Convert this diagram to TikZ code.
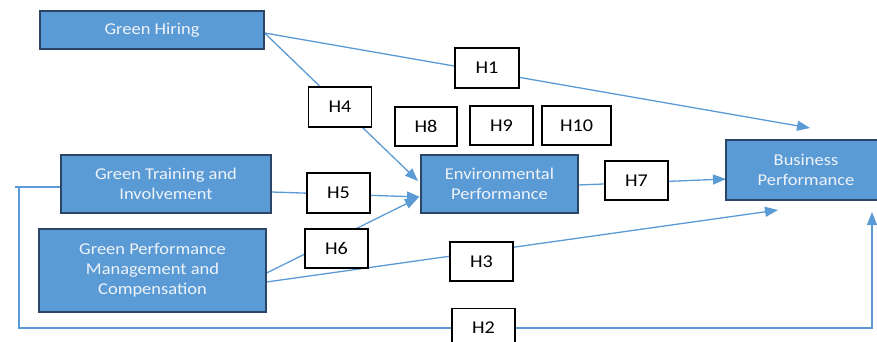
\documentclass[tikz,border=0pt]{standalone}
\usepackage{fontspec}
\setmainfont{Carlito}
\newfontfamily\wideCarlito[FakeStretch=1.12]{Carlito}
\usetikzlibrary{arrows.meta}
\pgfdeclarelayer{bg}
\pgfsetlayers{bg,main}
\definecolor{boxblue}{HTML}{5B9BD5}
\definecolor{boxedge}{HTML}{2B4566}
\definecolor{linkblue}{HTML}{5B9BD5}
\definecolor{boxtext}{HTML}{EEF3FA}
\tikzset{
  varbox/.style={draw=boxedge, line width=1.2pt, fill=boxblue, text=boxtext,
    align=center, inner sep=0pt, font=\wideCarlito\fontsize{16.5}{20}\selectfont},
  hypbox/.style={draw=black, line width=1.4pt, fill=white, inner sep=0pt,
    font=\wideCarlito\fontsize{18}{20}\selectfont},
  link/.style={draw=linkblue, line width=1.3pt},
  arrowlink/.style={link, -{Triangle[length=13pt,width=10pt]}}
}
\begin{document}
\begin{tikzpicture}[x=1pt,y=-1pt]
\useasboundingbox (0,0) rectangle (877,342);
% variable boxes
\node[varbox, minimum width=224pt, minimum height=38pt] (hire) at (152,30) {Green Hiring};
\node[varbox, minimum width=210pt, minimum height=58pt] (train) at (166,184) {Green Training and\\Involvement};
\node[varbox, minimum width=227pt, minimum height=83pt] (gpm) at (152.5,270.5) {Green Performance\\Management and\\Compensation};
\node[varbox, minimum width=157pt, minimum height=58pt] (env) at (499.5,184) {Environmental\\Performance};
\node[varbox, minimum width=160pt, minimum height=60pt] (bus) at (806,170) {Business\\Performance};
% hypothesis boxes
\node[hypbox, minimum width=64pt, minimum height=40pt] (h1) at (487,68) {H1};
\node[hypbox, minimum width=63pt, minimum height=40pt] (h4) at (340,107) {H4};
\node[hypbox, minimum width=62pt, minimum height=39pt] (h8) at (426,126.5) {H8};
\node[hypbox, minimum width=63pt, minimum height=39pt] (h9) at (501.5,125.5) {H9};
\node[hypbox, minimum width=69pt, minimum height=39pt] (h10) at (576.5,125.5) {H10};
\node[hypbox, minimum width=63pt, minimum height=40pt] (h5) at (338.5,193) {H5};
\node[hypbox, minimum width=63pt, minimum height=39pt] (h6) at (336.5,248.5) {H6};
\node[hypbox, minimum width=63pt, minimum height=39pt] (h7) at (636.5,180.5) {H7};
\node[hypbox, minimum width=63pt, minimum height=39pt] (h3) at (481.5,261.5) {H3};
\node[hypbox, minimum width=63pt, minimum height=39pt] (h2) at (483.5,328) {H2};
% arrow end points
\coordinate (a1) at (810,128);
\coordinate (a4) at (418,181);
\coordinate (a5) at (420,197);
\coordinate (a6) at (418,198);
\coordinate (a7) at (726,179);
\coordinate (a3) at (778,210);
\coordinate (a2) at (872,212);
\coordinate (fbtop) at (15,187);
\coordinate (fbcorner) at (19,187);
\coordinate (fbbottom) at (19,328);
\coordinate (fbright) at (872,328);
\begin{pgfonlayer}{bg}
\path[arrowlink] ([yshift=-3pt]hire.east) -- (a1);
\path[arrowlink] ([yshift=-3pt]hire.east) -- (a4);
\path[arrowlink] ([yshift=-8pt]train.east) -- (a5);
\path[arrowlink] ([yshift=-2.5pt]gpm.east) -- (a6);
\path[arrowlink] ([yshift=-11.5pt]gpm.east) -- (a3);
\path[arrowlink] ([yshift=-1pt]env.east) -- (a7);
\path[link] ([yshift=-3pt]train.west) -- (fbtop);
\path[arrowlink] (fbcorner) -- (fbbottom) -- (fbright) -- (a2);
\end{pgfonlayer}
\end{tikzpicture}
\end{document}
